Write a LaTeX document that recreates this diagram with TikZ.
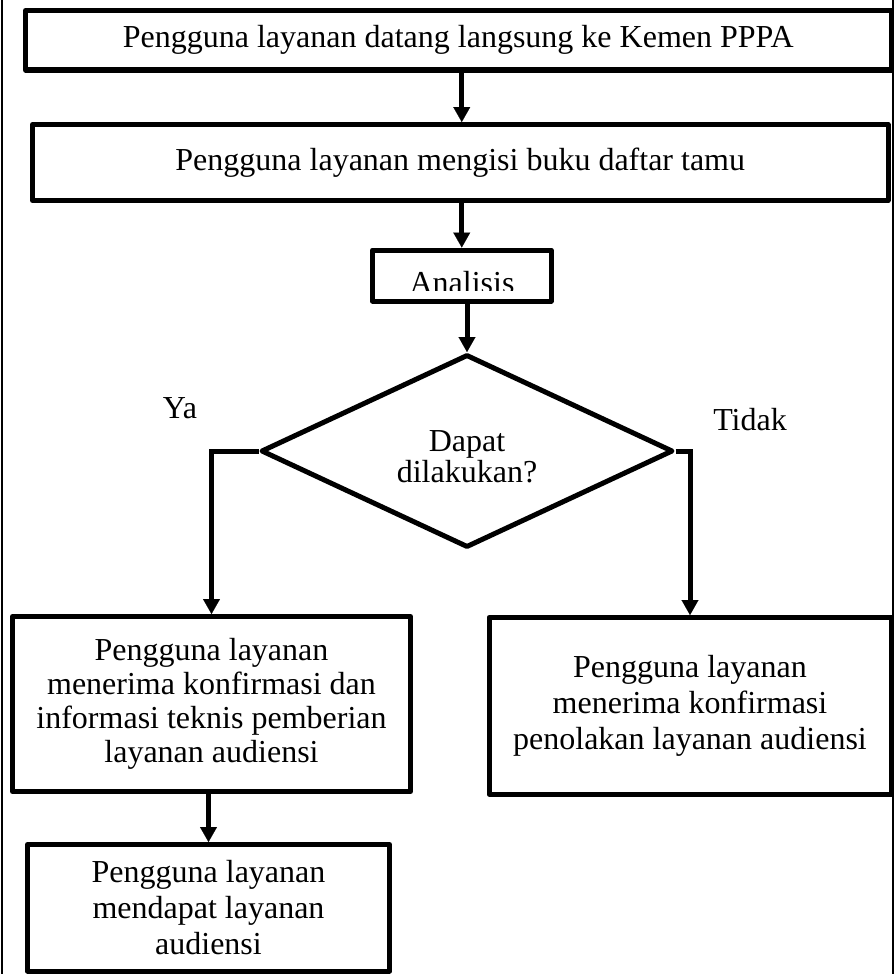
\documentclass[tikz,border=0pt]{standalone}
\usepackage{fontspec}
\setmainfont{Liberation Serif}
\usetikzlibrary{arrows.meta,shapes.geometric,calc}
\begin{document}
\begin{tikzpicture}[x=1pt,y=-1pt,
  every node/.style={font=\fontsize{32}{36}\selectfont},
  box/.style={draw,line width=5pt,line join=round,rectangle,inner sep=0pt,align=center},
  diam/.style={draw,line width=5pt,line join=round,diamond,shape aspect=2.13,inner sep=0pt,
    minimum width=412pt,minimum height=193pt},
  arr/.style={line width=5pt,-{Triangle[width=17pt,length=15pt,line width=0.1pt]}},
  framel/.style={line width=2pt}]
\useasboundingbox (0,0) rectangle (894,974);
% outer frame (left and right edges)
\coordinate (ftl) at (1.5,0);
\coordinate (fbl) at (1.5,974);
\coordinate (ftr) at (892.8,0);
\coordinate (fbr) at (892.8,974);
\draw[framel] (ftl) -- (fbl);
\draw[framel] (ftr) -- (fbr);
% nodes
\node[box,minimum width=865.5pt,minimum height=59.5pt] (b1) at (458.25,40.25)
  {Pengguna layanan datang langsung ke Kemen PPPA};
\node[box,minimum width=855.5pt,minimum height=76pt] (b2) at (460.25,162.5)
  {Pengguna layanan mengisi buku daftar tamu};
\node[box,minimum width=178.5pt,minimum height=51pt] (ana) at (461.75,275.5) {};
\begin{scope}
  \clip ($(ana.north west)+(3,3)$) rectangle ($(ana.south east)+(-3,-13)$);
  \node[anchor=base] (anatext) at (462,293) {Analisis};
\end{scope}
\node[diam] (dia) at (467,451) {};
\node[align=center,font=\fontsize{32}{28}\selectfont,anchor=base] (dtext) at (467,482) {Dapat\\dilakukan?};
\node[anchor=base] (ya) at (180,418) {Ya};
\node[anchor=base] (tidak) at (750,430) {Tidak};
\node[box,minimum width=398pt,minimum height=175pt,font=\fontsize{32}{34}\selectfont] (ok) at (211.5,704)
  {Pengguna layanan\\menerima konfirmasi dan\\informasi teknis pemberian\\layanan audiensi};
\node[box,minimum width=402pt,minimum height=176.5pt] (no) at (690,705.75)
  {Pengguna layanan\\menerima konfirmasi\\penolakan layanan audiensi};
\node[box,minimum width=362pt,minimum height=126.5pt] (fin) at (208.5,907.75)
  {Pengguna layanan\\mendapat layanan\\audiensi};
% connectors
\draw[arr] (b1.south -| ana.north) -- (b2.north -| ana.north);
\draw[arr] (b2.south -| ana.north) -- (ana.north);
\draw[arr] (ana.south -| dia.north) -- (dia.north);
\draw[arr] (dia.west) -| (ok.north);
\draw[arr] (dia.east) -| (no.north);
\draw[arr] (ok.south -| fin.north) -- (fin.north);
\end{tikzpicture}
\end{document}
